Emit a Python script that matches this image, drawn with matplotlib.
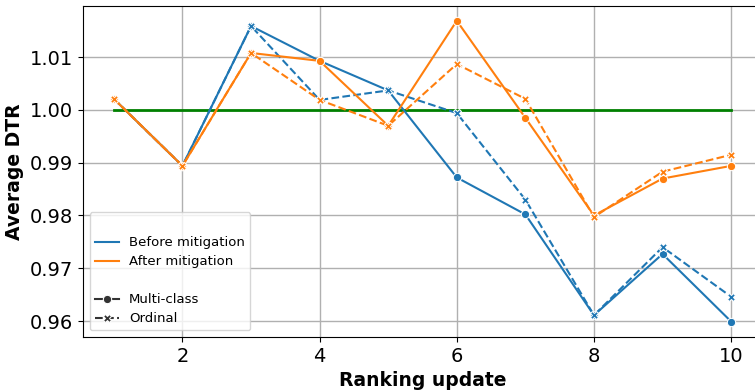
import matplotlib
matplotlib.use('Agg')
import matplotlib.pyplot as plt
from matplotlib.lines import Line2D

updates = [1, 2, 3, 4, 5, 6, 7, 8, 9, 10]

before_multi = [1.0021, 0.9894, 1.0159, 1.0093, 1.0037, 0.9872, 0.9802, 0.9611, 0.9727, 0.9599]
before_ord = [1.0021, 0.9894, 1.0159, 1.0019, 1.0037, 0.9994, 0.9830, 0.9611, 0.9740, 0.9646]
after_multi = [1.0021, 0.9894, 1.0108, 1.0093, 0.9970, 1.0169, 0.9985, 0.9800, 0.9870, 0.9894]
after_ord = [1.0021, 0.9894, 1.0108, 1.0019, 0.9970, 1.0087, 1.0021, 0.9797, 0.9883, 0.9915]
baseline = 1.0

blue = '#1f77b4'
orange = '#ff7f0e'

fig = plt.figure(figsize=(7.55, 3.9), dpi=100)
ax = fig.add_axes([83/755, 1-337/390, (762-83)/755, (337-6)/390])

ax.plot(updates, [baseline]*len(updates), c='green', lw=2, zorder=2)

ax.plot(updates, before_multi, c=blue, lw=1.5, marker='o', ms=6, mec='white', mew=0.75, zorder=3)
ax.plot(updates, before_ord, c=blue, lw=1.5, ls='--', marker='X', ms=6, mec='white', mew=0.75, zorder=3)
ax.plot(updates, after_multi, c=orange, lw=1.5, marker='o', ms=6, mec='white', mew=0.75, zorder=3)
ax.plot(updates, after_ord, c=orange, lw=1.5, ls='--', marker='X', ms=6, mec='white', mew=0.75, zorder=3)

ax.set_xlim(0.55, 10.45)
ax.set_ylim(0.95697, 1.0197)
ax.set_xticks([2, 4, 6, 8, 10])
ax.set_yticks([0.96, 0.97, 0.98, 0.99, 1.00, 1.01])
ax.tick_params(labelsize=14)
ax.grid(True, color='#b0b0b0', lw=1)
ax.set_axisbelow(True)

ax.set_xlabel('Ranking update', fontsize=13.5, fontweight='bold')
ax.set_ylabel('Average DTR', fontsize=13.5, fontweight='bold')

blank = Line2D([], [], ls='none', marker='none')
handles = [blank,
           Line2D([], [], c=blue, lw=1.5),
           Line2D([], [], c=orange, lw=1.5),
           blank,
           Line2D([], [], c='#333333', lw=1.5, marker='o', ms=6, mec='white', mew=0.75),
           Line2D([], [], c='#333333', lw=1.5, ls='--', marker='X', ms=6, mec='white', mew=0.75)]
labels = ['', 'Before mitigation', 'After mitigation', '', 'Multi-class', 'Ordinal']
ax.legend(handles, labels, loc='lower left', fontsize=9.5, framealpha=0.8,
          handlelength=1.8, labelspacing=0.45)

fig.savefig('out.png', dpi=100)
